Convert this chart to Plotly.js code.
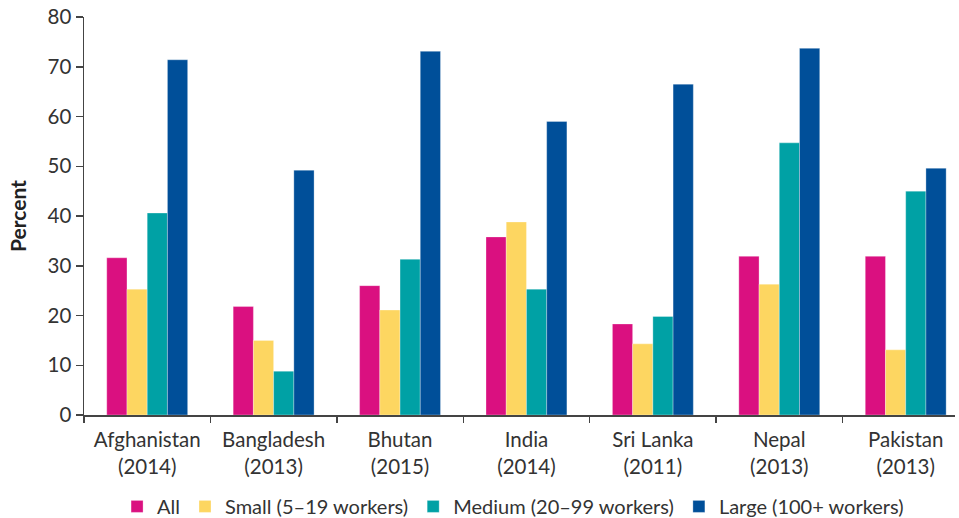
<!DOCTYPE html>
<html>
<head>
<meta charset="utf-8">
<script src="https://cdn.plot.ly/plotly-3.0.1.min.js"></script>
<style>html,body{margin:0;padding:0;background:#fff;}#chart{width:959px;height:518px;}</style>
</head>
<body>
<div id="chart"></div>
<script>
const categories = ["Afghanistan<br>(2014)", "Bangladesh<br>(2013)", "Bhutan<br>(2015)", "India<br>(2014)", "Sri Lanka<br>(2011)", "Nepal<br>(2013)", "Pakistan<br>(2013)"];
const seriesNames = ["All", "Small (5–19 workers)", "Medium (20–99 workers)", "Large (100+ workers)"];
const allFirms = [31.6, 21.8, 26.0, 35.8, 18.3, 31.9, 31.9];
const smallFirms = [25.3, 15.0, 21.1, 38.8, 14.3, 26.3, 13.1];
const mediumFirms = [40.6, 8.8, 31.3, 25.3, 19.8, 54.7, 45.0];
const largeFirms = [71.4, 49.2, 73.1, 59.0, 66.5, 73.7, 49.6];
const colors = ["#DA1080", "#FDD661", "#00A1A5", "#004F99"];

const values = [allFirms, smallFirms, mediumFirms, largeFirms];
const traces = values.map((v, i) => ({
  type: "bar",
  name: seriesNames[i],
  x: categories,
  y: v,
  marker: {color: colors[i], line: {color: "rgba(255,255,255,0.5)", width: 0.6}},
  hoverinfo: "y"
}));

const fam = "Lato, 'Open Sans', sans-serif";
const layout = {
  width: 959, height: 518,
  margin: {l: 84, r: 4, t: 17, b: 103, autoexpand: false},
  paper_bgcolor: "#fff", plot_bgcolor: "#fff",
  font: {family: fam, color: "#333", size: 20},
  barmode: "group",
  bargap: 0.36,
  bargroupgap: 0,
  showlegend: true,
  legend: {
    orientation: "h", x: 0.535, xref: "container", xanchor: "center",
    y: 0.06, yref: "container", yanchor: "top",
    font: {family: fam, size: 20, color: "#333"},
    itemwidth: 30, traceorder: "normal", tracegroupgap: 0
  },
  xaxis: {
    type: "category",
    range: [-0.5, 6.39],
    tickson: "boundaries",
    ticks: "outside", ticklen: 6, tickcolor: "#444", tickwidth: 1.5,
    showline: true, linecolor: "#444", linewidth: 1.5,
    showgrid: false, zeroline: false,
    tickfont: {family: fam, size: 20.5, color: "#333"},
    ticklabelstandoff: 6,
    automargin: false,
    fixedrange: true
  },
  yaxis: {
    range: [0, 80],
    dtick: 10,
    ticks: "outside", ticklen: 7, tickcolor: "#444", tickwidth: 1.5,
    showline: true, linecolor: "#444", linewidth: 1.5,
    showgrid: false, zeroline: false,
    tickfont: {family: fam, size: 20.5, color: "#333"},
    automargin: false,
    fixedrange: true
  },
  annotations: [{
    text: "<b>Percent</b>", textangle: -90,
    xref: "paper", yref: "paper", x: 0, y: 0.5,
    xanchor: "center", yanchor: "middle", xshift: -67,
    showarrow: false,
    font: {family: fam, size: 21, color: "#222"}
  }]
};

Plotly.newPlot("chart", traces, layout, {displayModeBar: false, staticPlot: true});
</script>
</body>
</html>
